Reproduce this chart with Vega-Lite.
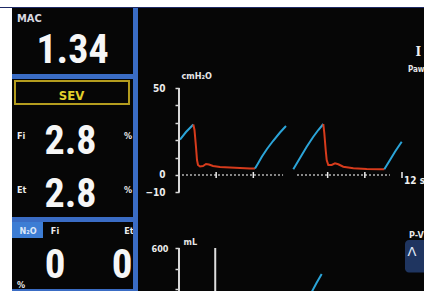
{
  "$schema": "https://vega.github.io/schema/vega-lite/v6.json",
  "background": "#3a6cc4",
  "padding": 0,
  "spacing": 0,
  "bounds": "flush",
  "config": {"view": {"stroke": null, "fill": "#060606"}},
  "vconcat": [
    {"width": 424, "height": 7, "view": {"fill": "#ffffff", "stroke": null}, "data": {"values": []}, "mark": "rect"},
    {"width": 424, "height": 1, "view": {"fill": "#1e2a66", "stroke": null}, "data": {"values": []}, "mark": "rect"},
    {
      "spacing": 0,
      "bounds": "flush",
      "hconcat": [
        {"width": 12, "height": 283, "view": {"fill": "#ffffff", "stroke": null}, "data": {"values": []}, "mark": "rect"},
        {
          "spacing": 5,
          "bounds": "full",
          "hconcat": [
            {
              "spacing": 5,
              "bounds": "flush",
              "vconcat": [
                {
                  "width": 121, "height": 66,
                  "view": {"fill": "#060606", "stroke": null},
                  "data": {"values": [{"role": "name", "text": "MAC"}, {"role": "reading", "text": "1.34"}]},
                  "encoding": {
                    "x": {"field": "role", "type": "nominal", "scale": {"type": "point", "domain": ["name", "reading"], "range": [5, 60.5], "padding": 0}, "axis": null},
                    "y": {"field": "role", "type": "nominal", "scale": {"type": "point", "domain": ["name", "reading"], "range": [14, 55], "padding": 0}, "axis": null},
                    "text": {"field": "text"}
                  },
                  "layer": [
                    {"transform": [{"filter": "datum.role === 'name'"}], "mark": {"type": "text", "clip": true, "align": "left", "baseline": "alphabetic", "font": "Noto Sans Condensed, Liberation Sans Narrow, DejaVu Sans Condensed, sans-serif", "fontSize": 11, "fontWeight": "bold", "color": "#d9d9e0"}},
                    {"transform": [{"filter": "datum.role === 'reading'"}], "mark": {"type": "text", "clip": true, "align": "center", "baseline": "alphabetic", "font": "Noto Sans ExtraCondensed, Noto Sans Condensed, Roboto Condensed, Liberation Sans Narrow, DejaVu Sans Condensed, sans-serif", "fontSize": 40, "fontWeight": "bold", "color": "#f6f6f6"}}
                  ]
                },
                {
                  "width": 121, "height": 138,
                  "view": {"fill": "#060606", "stroke": null},
                  "data": {"values": [
                    {"row": "agent", "col": "value", "kind": "agent", "text": "SEV"},
                    {"row": "Fi", "col": "label", "kind": "label", "text": "Fi"},
                    {"row": "Fi", "col": "value", "kind": "reading", "text": "2.8"},
                    {"row": "Fi", "col": "unit", "kind": "unit", "text": "%"},
                    {"row": "Et", "col": "label", "kind": "label", "text": "Et"},
                    {"row": "Et", "col": "value", "kind": "reading", "text": "2.8"},
                    {"row": "Et", "col": "unit", "kind": "unit", "text": "%"}
                  ]},
                  "encoding": {
                    "x": {"field": "col", "type": "nominal", "scale": {"type": "point", "domain": ["label", "value", "unit"], "range": [5, 120], "padding": 0}, "axis": null},
                    "y": {"field": "row", "type": "nominal", "scale": {"type": "point", "domain": ["agent", "Fi", "Et"], "range": [21, 128], "padding": 0}, "axis": null}
                  },
                  "layer": [
                    {"transform": [{"filter": "datum.kind === 'agent'"}], "mark": {"type": "point", "clip": true, "shape": "M-1.044,-0.333H0.956V0.070H-1.044Z", "size": 12996, "filled": false, "color": "#b39c1e", "strokeWidth": 2, "opacity": 1}},
                    {"transform": [{"filter": "datum.kind === 'agent'"}], "mark": {"type": "text", "clip": true, "align": "center", "baseline": "alphabetic", "dx": -3, "font": "Noto Sans Condensed, Liberation Sans Narrow, DejaVu Sans Condensed, sans-serif", "fontSize": 13, "fontWeight": "bold", "color": "#e4d02c"}, "encoding": {"text": {"field": "text"}}},
                    {"transform": [{"filter": "datum.kind === 'reading'"}], "mark": {"type": "text", "clip": true, "align": "center", "baseline": "alphabetic", "dx": -4, "font": "Noto Sans ExtraCondensed, Noto Sans Condensed, Roboto Condensed, Liberation Sans Narrow, DejaVu Sans Condensed, sans-serif", "fontSize": 40, "fontWeight": "bold", "color": "#f6f6f6"}, "encoding": {"text": {"field": "text"}}},
                    {"transform": [{"filter": "datum.kind === 'label'"}], "mark": {"type": "text", "clip": true, "align": "left", "baseline": "alphabetic", "dy": -14.5, "font": "Noto Sans Condensed, Liberation Sans Narrow, DejaVu Sans Condensed, sans-serif", "fontSize": 9, "fontWeight": "bold", "color": "#ececec"}, "encoding": {"text": {"field": "text"}}},
                    {"transform": [{"filter": "datum.kind === 'unit'"}], "mark": {"type": "text", "clip": true, "align": "right", "baseline": "alphabetic", "dy": -14.5, "font": "Noto Sans Condensed, Liberation Sans Narrow, DejaVu Sans Condensed, sans-serif", "fontSize": 9, "fontWeight": "bold", "color": "#ececec"}, "encoding": {"text": {"field": "text"}}}
                  ]
                },
                {
                  "width": 121, "height": 67,
                  "view": {"fill": "#060606", "stroke": null},
                  "data": {"values": [
                    {"row": "head", "col": "tag", "kind": "tag", "text": "N₂O"},
                    {"row": "head", "col": "Fi", "kind": "label", "text": "Fi"},
                    {"row": "head", "col": "Et", "kind": "label", "text": "Et"},
                    {"row": "reading", "col": "Fi", "kind": "reading", "text": "0"},
                    {"row": "reading", "col": "Et", "kind": "reading", "text": "0"},
                    {"row": "unit", "col": "tag", "kind": "unit", "text": "%"}
                  ]},
                  "resolve": {"scale": {"x": "independent", "y": "independent"}},
                  "layer": [
                    {
                      "transform": [{"filter": "datum.kind === 'tag'"}],
                      "mark": {"type": "point", "clip": true, "shape": "M-1,-0.531H0.938V0.469H-1Z", "size": 1024, "filled": true, "color": "#3d7dd4", "strokeWidth": 0, "opacity": 1},
                      "encoding": {
                        "x": {"field": "col", "type": "nominal", "scale": {"type": "point", "domain": ["tag"], "range": [15, 17], "padding": 0}, "axis": null},
                        "y": {"field": "row", "type": "nominal", "scale": {"type": "point", "domain": ["head"], "range": [7.5, 9.5], "padding": 0}, "axis": null}
                      }
                    },
                    {
                      "transform": [{"filter": "datum.kind === 'tag'"}],
                      "mark": {"type": "text", "clip": true, "align": "center", "baseline": "middle", "font": "Noto Sans Condensed, Liberation Sans Narrow, DejaVu Sans Condensed, sans-serif", "fontSize": 9, "fontWeight": "bold", "color": "#dbe7f8"},
                      "encoding": {
                        "x": {"field": "col", "type": "nominal", "scale": {"type": "point", "domain": ["tag"], "range": [15, 17], "padding": 0}, "axis": null},
                        "y": {"field": "row", "type": "nominal", "scale": {"type": "point", "domain": ["head"], "range": [7.5, 9.5], "padding": 0}, "axis": null},
                        "text": {"field": "text"}
                      }
                    },
                    {
                      "transform": [{"filter": "datum.kind === 'label'"}],
                      "mark": {"type": "text", "clip": true, "align": "center", "baseline": "middle", "font": "Noto Sans Condensed, Liberation Sans Narrow, DejaVu Sans Condensed, sans-serif", "fontSize": 9, "fontWeight": "bold", "color": "#ececec"},
                      "encoding": {
                        "x": {"field": "col", "type": "nominal", "scale": {"type": "point", "domain": ["Fi", "Et"], "range": [43, 117], "padding": 0}, "axis": null},
                        "y": {"field": "row", "type": "nominal", "scale": {"type": "point", "domain": ["head"], "range": [7.5, 9.5], "padding": 0}, "axis": null},
                        "text": {"field": "text"}
                      }
                    },
                    {
                      "transform": [{"filter": "datum.kind === 'reading'"}],
                      "mark": {"type": "text", "clip": true, "align": "center", "baseline": "alphabetic", "font": "Noto Sans ExtraCondensed, Noto Sans Condensed, Roboto Condensed, Liberation Sans Narrow, DejaVu Sans Condensed, sans-serif", "fontSize": 41, "fontWeight": "bold", "color": "#f6f6f6"},
                      "encoding": {
                        "x": {"field": "col", "type": "nominal", "scale": {"type": "point", "domain": ["Fi", "Et"], "range": [43, 110], "padding": 0}, "axis": null},
                        "y": {"field": "row", "type": "nominal", "scale": {"type": "point", "domain": ["reading"], "range": [55, 57], "padding": 0}, "axis": null},
                        "text": {"field": "text"}
                      }
                    },
                    {
                      "transform": [{"filter": "datum.kind === 'unit'"}],
                      "mark": {"type": "text", "clip": true, "align": "left", "baseline": "alphabetic", "font": "Noto Sans Condensed, Liberation Sans Narrow, DejaVu Sans Condensed, sans-serif", "fontSize": 9, "fontWeight": "bold", "color": "#ececec"},
                      "encoding": {
                        "x": {"field": "col", "type": "nominal", "scale": {"type": "point", "domain": ["tag"], "range": [4, 6], "padding": 0}, "axis": null},
                        "y": {"field": "row", "type": "nominal", "scale": {"type": "point", "domain": ["unit"], "range": [65, 67], "padding": 0}, "axis": null},
                        "text": {"field": "text"}
                      }
                    }
                  ]
                }
              ]
            },
            {
              "width": 286, "height": 283,
              "view": {"fill": "#060606", "stroke": null},
              "resolve": {"scale": {"y": "independent"}, "axis": {"y": "independent"}},
              "layer": [
                {
                  "layer": [
                    {
                      "data": {"values": [
                        {"seg": "s1", "phase": "inspiration", "t": 0.054, "p": 20.4},
                        {"seg": "s1", "phase": "inspiration", "t": 0.377, "p": 24.71},
                        {"seg": "s1", "phase": "inspiration", "t": 0.77, "p": 29.02},
                        {"seg": "s2", "phase": "expiration", "t": 0.77, "p": 29.02},
                        {"seg": "s2", "phase": "expiration", "t": 0.834, "p": 25.86},
                        {"seg": "s2", "phase": "expiration", "t": 0.915, "p": 16.09},
                        {"seg": "s2", "phase": "expiration", "t": 0.969, "p": 8.62},
                        {"seg": "s2", "phase": "expiration", "t": 1.023, "p": 5.75},
                        {"seg": "s2", "phase": "expiration", "t": 1.13, "p": 4.89},
                        {"seg": "s2", "phase": "expiration", "t": 1.292, "p": 5.17},
                        {"seg": "s2", "phase": "expiration", "t": 1.453, "p": 6.32},
                        {"seg": "s2", "phase": "expiration", "t": 1.614, "p": 6.03},
                        {"seg": "s2", "phase": "expiration", "t": 1.83, "p": 5.17},
                        {"seg": "s2", "phase": "expiration", "t": 2.206, "p": 4.6},
                        {"seg": "s2", "phase": "expiration", "t": 2.744, "p": 4.31},
                        {"seg": "s2", "phase": "expiration", "t": 3.283, "p": 4.02},
                        {"seg": "s2", "phase": "expiration", "t": 3.821, "p": 3.74},
                        {"seg": "s2", "phase": "expiration", "t": 4.09, "p": 3.74},
                        {"seg": "s3", "phase": "inspiration", "t": 4.09, "p": 3.74},
                        {"seg": "s3", "phase": "inspiration", "t": 4.251, "p": 6.61},
                        {"seg": "s3", "phase": "inspiration", "t": 4.466, "p": 10.63},
                        {"seg": "s3", "phase": "inspiration", "t": 4.735, "p": 14.94},
                        {"seg": "s3", "phase": "inspiration", "t": 5.058, "p": 19.54},
                        {"seg": "s3", "phase": "inspiration", "t": 5.435, "p": 24.43},
                        {"seg": "s3", "phase": "inspiration", "t": 5.758, "p": 28.16},
                        {"seg": "s4", "phase": "inspiration", "t": 6.151, "p": 3.28},
                        {"seg": "s4", "phase": "inspiration", "t": 6.511, "p": 9.77},
                        {"seg": "s4", "phase": "inspiration", "t": 6.872, "p": 16.26},
                        {"seg": "s4", "phase": "inspiration", "t": 7.227, "p": 22.01},
                        {"seg": "s4", "phase": "inspiration", "t": 7.496, "p": 25.86},
                        {"seg": "s4", "phase": "inspiration", "t": 7.765, "p": 29.31},
                        {"seg": "s5", "phase": "expiration", "t": 7.765, "p": 29.31},
                        {"seg": "s5", "phase": "expiration", "t": 7.819, "p": 24.14},
                        {"seg": "s5", "phase": "expiration", "t": 7.894, "p": 14.37},
                        {"seg": "s5", "phase": "expiration", "t": 7.948, "p": 8.62},
                        {"seg": "s5", "phase": "expiration", "t": 8.034, "p": 5.75},
                        {"seg": "s5", "phase": "expiration", "t": 8.217, "p": 5.75},
                        {"seg": "s5", "phase": "expiration", "t": 8.395, "p": 6.72},
                        {"seg": "s5", "phase": "expiration", "t": 8.572, "p": 6.15},
                        {"seg": "s5", "phase": "expiration", "t": 8.841, "p": 4.77},
                        {"seg": "s5", "phase": "expiration", "t": 9.38, "p": 3.85},
                        {"seg": "s5", "phase": "expiration", "t": 10.101, "p": 3.45},
                        {"seg": "s5", "phase": "expiration", "t": 10.816, "p": 3.28},
                        {"seg": "s5", "phase": "expiration", "t": 11.048, "p": 3.28},
                        {"seg": "s6", "phase": "inspiration", "t": 11.048, "p": 3.28},
                        {"seg": "s6", "phase": "inspiration", "t": 11.354, "p": 8.62},
                        {"seg": "s6", "phase": "inspiration", "t": 11.623, "p": 13.39},
                        {"seg": "s6", "phase": "inspiration", "t": 11.984, "p": 19.14}
                      ]},
                      "mark": {"type": "line", "strokeWidth": 2, "clip": true},
                      "encoding": {
                        "x": {"field": "t", "type": "quantitative", "scale": {"domain": [-2.206, 13.184], "nice": false, "zero": false}, "axis": null},
                        "y": {
                          "field": "p", "type": "quantitative",
                          "scale": {"domain": [-66.67, 95.98], "nice": false, "zero": false},
                          "axis": {
                            "orient": "left", "offset": -41, "values": [-10, 0, 10, 20, 30, 40, 50],
                            "labelExpr": "datum.value == 50 || datum.value == 0 || datum.value == -10 ? datum.label : ''",
                            "domain": false, "grid": false, "tickSize": 4, "tickWidth": 1.5, "tickColor": "#d8d8d8",
                            "labelPadding": 10, "labelColor": "#ececec", "labelFont": "Noto Sans Condensed, Liberation Sans Narrow, DejaVu Sans Condensed, sans-serif",
                            "labelFontSize": 10, "labelFontWeight": "bold", "labelOverlap": false,
                            "title": "cmH₂O", "titleAngle": 0, "titleX": 2, "titleY": 67.5, "titleAlign": "left", "titleBaseline": "middle",
                            "titleFont": "Noto Sans Condensed, Liberation Sans Narrow, DejaVu Sans Condensed, sans-serif", "titleFontSize": 9, "titleFontWeight": "bold", "titleColor": "#e6e6e6"
                          }
                        },
                        "color": {"field": "phase", "type": "nominal", "scale": {"domain": ["inspiration", "expiration"], "range": ["#2ba4d8", "#d63b1c"]}, "legend": null},
                        "detail": {"field": "seg"},
                        "order": {"field": "t"}
                      }
                    },
                    {
                      "data": {"values": [{"axis": "pressure"}]},
                      "mark": {"type": "rule", "color": "#d8d8d8", "strokeWidth": 2},
                      "encoding": {"x": {"datum": 0, "type": "quantitative"}, "y": {"datum": -10, "type": "quantitative"}, "y2": {"datum": 50}}
                    },
                    {
                      "data": {"values": [{"sweep": "current", "t0": 0.16, "t1": 5.6}, {"sweep": "previous", "t0": 6.35, "t1": 11.35}]},
                      "mark": {"type": "rule", "strokeDash": [2, 2], "strokeWidth": 1.5, "color": "#b4b4b4"},
                      "encoding": {"x": {"field": "t0", "type": "quantitative"}, "x2": {"field": "t1"}, "y": {"datum": 0, "type": "quantitative"}}
                    },
                    {
                      "data": {"values": [{"t": 2}, {"t": 4}, {"t": 8}, {"t": 10}, {"t": 12, "label": "12 s"}]},
                      "layer": [
                        {
                          "mark": {"type": "tick", "orient": "vertical", "size": 6, "thickness": 1.5, "color": "#eeeeee", "opacity": 1},
                          "encoding": {"x": {"field": "t", "type": "quantitative"}, "y": {"datum": 0, "type": "quantitative"}}
                        },
                        {
                          "transform": [{"filter": "isValid(datum.label)"}],
                          "mark": {"type": "text", "align": "left", "baseline": "middle", "dx": 2, "clip": true, "font": "Noto Sans Condensed, Liberation Sans Narrow, DejaVu Sans Condensed, sans-serif", "fontSize": 10, "fontWeight": "bold", "color": "#f0f0f0"},
                          "encoding": {"x": {"field": "t", "type": "quantitative"}, "y": {"datum": -3.2, "type": "quantitative"}, "text": {"field": "label"}}
                        }
                      ]
                    },
                    {
                      "data": {"values": [{"widget": "loop"}]},
                      "mark": {"type": "rect", "color": "#1f3560", "cornerRadius": 4, "clip": true},
                      "encoding": {"x": {"datum": 12.16, "type": "quantitative"}, "x2": {"datum": 14}, "y": {"datum": -37.4, "type": "quantitative"}, "y2": {"datum": -56}}
                    },
                    {
                      "data": {"values": [{"text": "Λ"}]},
                      "mark": {"type": "text", "align": "center", "baseline": "middle", "clip": true, "font": "DejaVu Sans", "fontSize": 13, "color": "#e0eaf8"},
                      "encoding": {"x": {"datum": 12.54, "type": "quantitative"}, "y": {"datum": -44.3, "type": "quantitative"}, "text": {"field": "text"}}
                    },
                    {
                      "data": {"values": [{"text": "P-V"}]},
                      "mark": {"type": "text", "align": "left", "baseline": "middle", "clip": true, "font": "Noto Sans Condensed, Liberation Sans Narrow, DejaVu Sans Condensed, sans-serif", "fontSize": 9, "fontWeight": "bold", "color": "#e6e6e6"},
                      "encoding": {"x": {"datum": 12.38, "type": "quantitative"}, "y": {"datum": -34.5, "type": "quantitative"}, "text": {"field": "text"}}
                    },
                    {
                      "data": {"values": [{"text": "Paw"}]},
                      "mark": {"type": "text", "align": "left", "baseline": "middle", "clip": true, "font": "Noto Sans Condensed, Liberation Sans Narrow, DejaVu Sans Condensed, sans-serif", "fontSize": 8, "fontWeight": "bold", "color": "#e6e6e6"},
                      "encoding": {"x": {"datum": 12.32, "type": "quantitative"}, "y": {"datum": 60.3, "type": "quantitative"}, "text": {"field": "text"}}
                    },
                    {
                      "data": {"values": [{"text": "I"}]},
                      "mark": {"type": "text", "align": "center", "baseline": "middle", "clip": true, "font": "DejaVu Serif", "fontSize": 12, "fontWeight": "bold", "color": "#f0f0f0"},
                      "encoding": {"x": {"datum": 12.88, "type": "quantitative"}, "y": {"datum": 70.7, "type": "quantitative"}, "text": {"field": "text"}}
                    }
                  ]
                },
                {
                  "layer": [
                    {
                      "data": {"values": [{"t": 7.141, "v": 170.7}, {"t": 7.399, "v": 258.5}, {"t": 7.679, "v": 346.3}]},
                      "mark": {"type": "line", "strokeWidth": 2, "color": "#2ba4d8", "clip": true},
                      "encoding": {
                        "x": {"field": "t", "type": "quantitative", "scale": {"domain": [-2.206, 13.184], "nice": false, "zero": false}, "axis": null},
                        "y": {
                          "field": "v", "type": "quantitative",
                          "scale": {"domain": [180.5, 2941.5], "nice": false, "zero": false},
                          "axis": {
                            "orient": "left", "offset": -41, "values": [600, 400, 200],
                            "labelExpr": "datum.value == 600 ? datum.label : ''",
                            "domain": false, "grid": false, "tickSize": 4, "tickWidth": 1.5, "tickColor": "#d8d8d8",
                            "labelPadding": 7, "labelColor": "#ececec", "labelFont": "Noto Sans Condensed, Liberation Sans Narrow, DejaVu Sans Condensed, sans-serif",
                            "labelFontSize": 9, "labelFontWeight": "bold", "labelOverlap": false,
                            "title": "mL", "titleAngle": 0, "titleX": 4, "titleY": 233, "titleAlign": "left", "titleBaseline": "middle",
                            "titleFont": "Noto Sans Condensed, Liberation Sans Narrow, DejaVu Sans Condensed, sans-serif", "titleFontSize": 9, "titleFontWeight": "bold", "titleColor": "#e6e6e6"
                          }
                        },
                        "order": {"field": "t"}
                      }
                    },
                    {
                      "data": {"values": [{"axis": "volume"}]},
                      "mark": {"type": "rule", "color": "#d8d8d8", "strokeWidth": 2, "clip": true},
                      "encoding": {"x": {"datum": 0, "type": "quantitative"}, "y": {"datum": 600, "type": "quantitative"}, "y2": {"datum": 100}}
                    },
                    {
                      "data": {"values": [{"t": 1.95}]},
                      "mark": {"type": "rule", "color": "#dedede", "strokeWidth": 2, "clip": true},
                      "encoding": {"x": {"field": "t", "type": "quantitative"}, "y": {"datum": 600, "type": "quantitative"}, "y2": {"datum": 100}}
                    }
                  ]
                }
              ]
            }
          ]
        }
      ]
    }
  ]
}
